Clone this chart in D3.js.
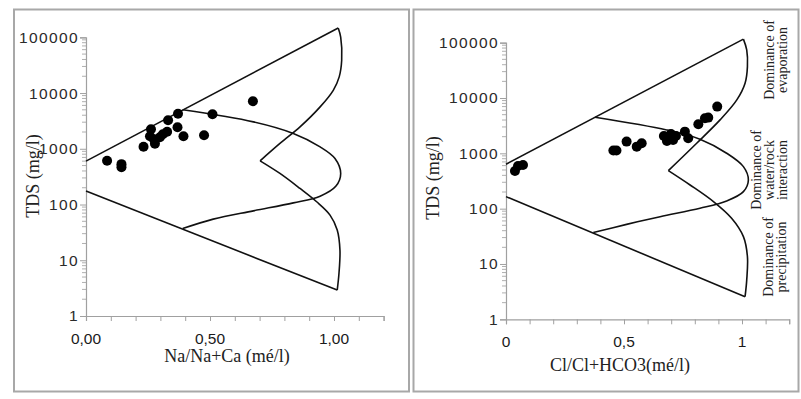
<!DOCTYPE html>
<html><head><meta charset="utf-8">
<script src="https://cdn.jsdelivr.net/npm/d3@7"></script>
<style>
html,body{margin:0;padding:0;background:#fff;}
svg{display:block;}
</style></head>
<body>
<svg id="c" width="801" height="399"></svg>
<script>
// ---- data ----
const yTickValues = [1, 10, 100, 1000, 10000, 100000];
const xMinorTicks = [0, 0.1, 0.2, 0.3, 0.4, 0.5, 0.6, 0.7, 0.8, 0.9, 1.0, 1.1, 1.2];
const xLabelValues = [0, 0.5, 1];
const leftXTickLabels = ["0,00", "0,50", "1,00"];
const rightXTickLabels = ["0", "0,5", "1"];

// Left panel samples: Na/(Na+Ca) vs TDS
const naRatio = [0.085, 0.143, 0.143, 0.232, 0.262, 0.258, 0.274, 0.278, 0.298, 0.310, 0.327, 0.331, 0.371, 0.369, 0.393, 0.476, 0.510, 0.673];
const tdsLeft = [612, 530, 468, 1090, 2245, 1682, 1486, 1234, 1614, 1827, 2024, 3255, 4256, 2438, 1682, 1754, 4169, 7130];

// Right panel samples: Cl/(Cl+HCO3) vs TDS
const clRatio = [0.038, 0.051, 0.072, 0.455, 0.468, 0.511, 0.554, 0.575, 0.669, 0.682, 0.699, 0.720, 0.708, 0.758, 0.772, 0.815, 0.843, 0.857, 0.895];
const tdsRight = [481, 592, 617, 1128, 1128, 1629, 1322, 1523, 2064, 1675, 2244, 2064, 1747, 2468, 1877, 3359, 4315, 4424, 6994];

// Gibbs envelope boundaries (left)
const leftUpperLine = [[0, 600], [1.017, 147000]];
const leftOuterUpperCurve = [[1.017, 147000], [1.027, 101000], [1.031, 38700], [1.021, 19500], [0.997, 11200], [0.944, 5640], [0.863, 2470], [0.782, 1245], [0.702, 607]];
const leftOuterLowerCurve = [[0.702, 607], [0.782, 361], [0.863, 194], [0.930, 112], [0.984, 64.6], [1.013, 34.8], [1.024, 15.2], [1.020, 5.8], [1.013, 2.92]];
const leftLowerLine = [[1.013, 2.92], [0, 174]];
const leftInnerCurve = [[0.390, 5000], [0.675, 3035], [0.836, 1880], [0.944, 1083], [1.004, 670], [1.027, 361], [1.008, 214], [0.944, 141], [0.836, 107], [0.675, 77], [0.513, 54.7], [0.390, 37]];

// Gibbs envelope boundaries (right)
const rightUpperLine = [[0, 635], [1.006, 116000]];
const rightOuterUpperCurve = [[1.006, 116000], [1.020, 74100], [1.023, 37000], [1.013, 18500], [0.978, 9240], [0.907, 4020], [0.808, 1523], [0.688, 487]];
const rightOuterLowerCurve = [[0.688, 487], [0.780, 268], [0.879, 134], [0.956, 67], [1.006, 31.2], [1.023, 13.6], [1.020, 5.1], [1.013, 2.56]];
const rightLowerLine = [[1.013, 2.56], [0, 165]];
const rightInnerCurve = [[0.377, 4500], [0.681, 2650], [0.822, 1800], [0.935, 1005], [1.006, 575], [1.027, 330], [1.006, 203], [0.935, 138], [0.822, 102], [0.653, 71.6], [0.511, 52], [0.370, 37]];

// ---- drawing ----
const svg = d3.select("#c");
svg.append("rect").attr("width", 801).attr("height", 399).attr("fill", "#fff");

const sans = "'Liberation Sans', Arial, sans-serif";
const serif = "'Liberation Serif', 'Times New Roman', serif";

function panel(cfg) {
  const g = svg.append("g");
  g.append("rect").attr("x", cfg.frame[0]).attr("y", cfg.frame[1])
    .attr("width", cfg.frame[2]).attr("height", cfg.frame[3])
    .attr("fill", "none").attr("stroke", "#a8a8a8").attr("stroke-width", 2);

  const x = d3.scaleLinear().domain([0, 1.2]).range(cfg.xRange);
  const y = d3.scaleLog().domain([1, 100000]).range(cfg.yRange);

  const minors = [];
  for (let d = 1; d < 100000; d *= 10) for (let k = 2; k <= 9; k++) minors.push(k * d);
  g.append("g").selectAll("line").data(minors).join("line")
    .attr("x1", cfg.xRange[0] - 4).attr("x2", cfg.xRange[0])
    .attr("y1", d => y(d)).attr("y2", d => y(d))
    .attr("stroke", "#b0b0b0").attr("stroke-width", 1);

  const yAxis = g.append("g").attr("transform", `translate(${cfg.xRange[0]},0)`)
    .call(d3.axisLeft(y).tickValues(yTickValues).tickFormat(d3.format("d")).tickSize(6).tickPadding(1));
  const xAxis = g.append("g").attr("transform", `translate(0,${cfg.yRange[0]})`)
    .call(d3.axisBottom(x).tickValues(xMinorTicks).tickSize(5).tickFormat(""));
  xAxis.selectAll(".tick text").remove();
  [yAxis, xAxis].forEach(a => {
    a.select(".domain").attr("stroke", "#a0a0a0").attr("stroke-width", 1.2);
    a.selectAll(".tick line").attr("stroke", "#a0a0a0").attr("stroke-width", 1);
  });
  yAxis.selectAll(".tick text").attr("fill", "#2a2a2a")
    .style("font-family", sans).style("font-size", "15.5px").style("letter-spacing", "1.4px");

  // x tick labels as plain text elements
  xLabelValues.forEach((v, i) => {
    g.append("text")
      .attr("x", x(v)).attr("y", cfg.xLabelY)
      .attr("text-anchor", "middle")
      .attr("fill", "#1a1a1a")
      .style("font-family", sans).style("font-size", "15.5px")
      .text(cfg.xLabels[i]);
  });

  const line = d3.line().x(d => x(d[0])).y(d => y(d[1]));
  const curve = d3.line().x(d => x(d[0])).y(d => y(d[1])).curve(d3.curveCatmullRom.alpha(0.5));
  const st = s => s.attr("fill", "none").attr("stroke", "#111").attr("stroke-width", 1.6).attr("stroke-linejoin", "round");
  st(g.append("path").attr("d", line(cfg.upper)));
  st(g.append("path").attr("d", curve(cfg.outerUp)));
  st(g.append("path").attr("d", curve(cfg.outerLow)));
  st(g.append("path").attr("d", line(cfg.lower)));
  st(g.append("path").attr("d", curve(cfg.inner)));

  g.append("g").selectAll("circle").data(cfg.xs.map((v, i) => [v, cfg.ys[i]])).join("circle")
    .attr("cx", d => x(d[0])).attr("cy", d => y(d[1])).attr("r", 5).attr("fill", "#000");

  g.append("text").attr("x", cfg.xTitlePos[0]).attr("y", cfg.xTitlePos[1])
    .attr("text-anchor", "middle").attr("fill", "#222")
    .style("font-family", serif).style("font-size", "18px")
    .text(cfg.xTitle);
  g.append("text").attr("transform", `translate(${cfg.yTitlePos[0]},${cfg.yTitlePos[1]}) rotate(-90)`)
    .attr("text-anchor", "middle").attr("fill", "#222")
    .style("font-family", serif).style("font-size", "18px")
    .text("TDS (mg/l)");
}

panel({
  frame: [14, 9.5, 395, 382],
  xRange: [86, 383.6], yRange: [316, 37.3],
  xLabels: leftXTickLabels, xLabelY: 344,
  upper: leftUpperLine, outerUp: leftOuterUpperCurve, outerLow: leftOuterLowerCurve,
  lower: leftLowerLine, inner: leftInnerCurve,
  xs: naRatio, ys: tdsLeft,
  xTitle: "Na/Na+Ca (mé/l)", xTitlePos: [227, 362],
  yTitlePos: [39, 176]
});

panel({
  frame: [413.5, 9.5, 385, 382],
  xRange: [506, 789.2], yRange: [319.3, 42.7],
  xLabels: rightXTickLabels, xLabelY: 347,
  upper: rightUpperLine, outerUp: rightOuterUpperCurve, outerLow: rightOuterLowerCurve,
  lower: rightLowerLine, inner: rightInnerCurve,
  xs: clRatio, ys: tdsRight,
  xTitle: "Cl/Cl+HCO3(mé/l)", xTitlePos: [620, 371],
  yTitlePos: [439, 178]
});

// region annotations
const notes = [
  { lines: ["Dominance of", "evaporation"], x: 774, y: 60 },
  { lines: ["Dominance of", "water/rock", "interaction"], x: 761, y: 170 },
  { lines: ["Dominance of", "precipitation"], x: 773, y: 257 }
];
notes.forEach(n => {
  n.lines.forEach((t, i) => {
    svg.append("text").attr("transform", `translate(${n.x + i * 13},${n.y}) rotate(-90)`)
      .attr("text-anchor", "middle").attr("fill", "#222")
      .style("font-family", serif).style("font-size", "14px")
      .text(t);
  });
});
</script>
</body></html>
